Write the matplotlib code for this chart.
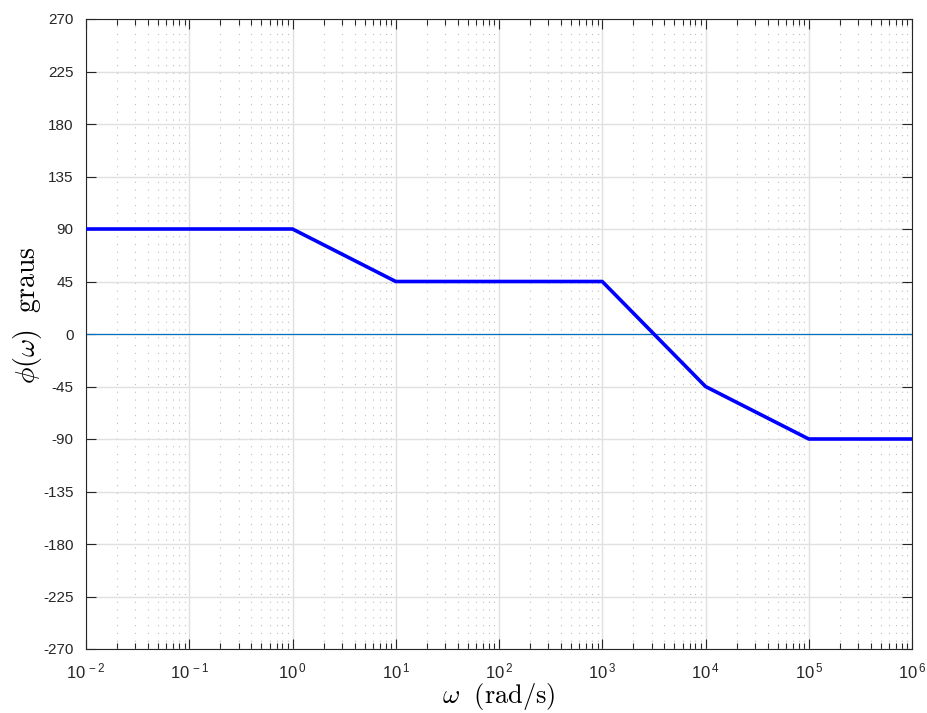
import numpy as np
import matplotlib
matplotlib.use('Agg')
import matplotlib.pyplot as plt
from matplotlib.ticker import LogLocator, FixedLocator, FuncFormatter

# asymptotic phase of the Bode diagram
w_pts = [1e-2, 1e0, 1e1, 1e3, 1e4, 1e5, 1e6]
phase_pts = [90, 90, 45, 45, -45, -90, -90]
yticks = list(range(-270, 271, 45))

plt.rcParams['font.family'] = ['Liberation Sans', 'DejaVu Sans']
plt.rcParams['mathtext.fontset'] = 'cm'
plt.rcParams['axes.unicode_minus'] = False

fig = plt.figure(figsize=(9.28, 7.13), dpi=100)
ax = fig.add_axes([86/928, 1-649/713, (912-86)/928, (649-19)/713])

ax.set_xscale('log')
ax.set_xlim(1e-2, 1e6)
ax.set_ylim(-270, 270)

ax.axhline(0, color='#0072BD', lw=0.9, zorder=2)
ax.plot(w_pts, phase_pts, color='#0000FF', lw=2.6, zorder=3)

ax.yaxis.set_major_locator(FixedLocator(yticks))
ax.xaxis.set_major_locator(FixedLocator([10.0**k for k in range(-2, 7)]))
ax.xaxis.set_minor_locator(LogLocator(base=10, subs=np.arange(2, 10), numticks=20))
ax.xaxis.set_major_formatter(FuncFormatter(lambda v, p: r'$\mathregular{10^{\,%d}}$' % round(np.log10(v))))
ax.xaxis.set_minor_formatter(FuncFormatter(lambda v, p: ''))

ax.grid(which='major', color='#e0e0e0', lw=1, ls='-')
ax.grid(which='minor', axis='x', color='#bdbdbd', lw=0.8, ls=(0, (1, 6)))
ax.set_axisbelow(True)

ax.tick_params(which='both', direction='in', top=True, right=True, colors='#262626')
ax.tick_params(which='major', length=7, width=0.8)
ax.tick_params(which='minor', length=4, width=0.8)
ax.tick_params(axis='y', labelsize=11, pad=9)
ax.tick_params(axis='x', labelsize=12, pad=9)
for s in ax.spines.values():
    s.set_color('#262626')
    s.set_linewidth(0.8)

ax.set_xlabel(r'$\omega\ \ \mathrm{(rad/s)}$', fontsize=19, va='center')
ax.set_ylabel(r'$\phi(\omega)\ \ \mathrm{graus}$', fontsize=20, va='center')
ax.xaxis.set_label_coords(0.5, (649-697)/630)
ax.yaxis.set_label_coords((27-86)/826, (649-315)/630)

fig.savefig('out.png', dpi=100)
